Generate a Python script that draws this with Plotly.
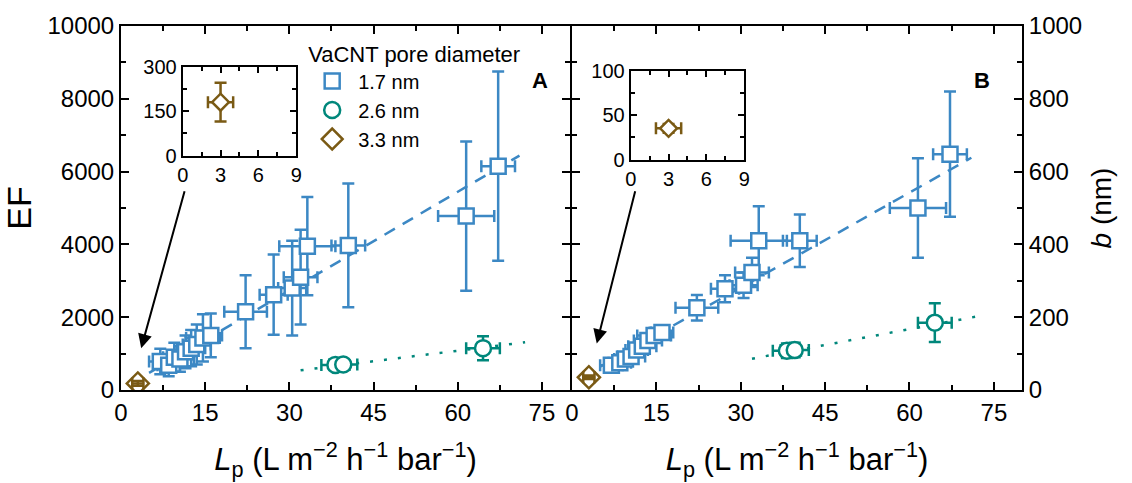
import plotly.graph_objects as go

# ---------------- data ----------------
# VaCNT 1.7 nm
lp_17 = [7.0, 8.5, 9.5, 10.5, 11.5, 12.5, 13.5, 14.6, 16.0, 22.2, 27.2, 30.5, 32.0, 33.2, 40.5, 61.5, 67.2]
lp_17_err = [2.0, 2.0, 2.0, 2.5, 2.0, 2.5, 2.5, 3.0, 2.0, 3.8, 2.5, 2.5, 3.0, 5.0, 3.0, 5.0, 3.0]
ef_17 = [780, 680, 900, 850, 1050, 1150, 1250, 1430, 1500, 2150, 2620, 2800, 3100, 3950, 3970, 4780, 6150]
ef_17_err = [350, 300, 400, 350, 450, 500, 550, 650, 600, 1000, 1100, 1300, 1300, 1350, 1700, 2050, 2600]
b_17 = [68, 75, 85, 92, 110, 120, 136, 150, 158, 226, 278, 288, 323, 410, 410, 500, 648]
b_17_err = [12, 12, 14, 15, 15, 18, 18, 20, 20, 35, 37, 35, 40, 95, 72, 137, 172]

# VaCNT 2.6 nm
lp_26 = [38.2, 39.6, 64.5]
lp_26_err = [2.5, 2.5, 3.0]
ef_26 = [690, 700, 1150]
ef_26_err = [120, 120, 330]
b_26 = [108, 110, 185]
b_26_err = [20, 20, 53]

# VaCNT 3.3 nm
lp_33 = [3.0]
lp_33_err = [1.0]
ef_33 = [180]
ef_33_err = [65]
b_33 = [35]
b_33_err = [5]

# linear fits (end points)
fit_x_17 = [5, 71]
fit_ef_17 = [470, 6440]
fit_b_17 = [64, 638]
fit_x_26 = [32, 72]
fit_ef_26 = [540, 1310]
fit_b_26 = [86, 202]

x_ticks = [0, 15, 30, 45, 60, 75]
ef_ticks = [0, 2000, 4000, 6000, 8000, 10000]
b_ticks = [0, 200, 400, 600, 800, 1000]
inset_x_ticks = [0, 3, 6, 9]
inset_ef_ticks = [0, 150, 300]
inset_b_ticks = [0, 50, 100]

BLUE = "#3c88c4"
TEAL = "#00877b"
BROWN = "#7a5a14"
FONT = "Liberation Sans, Arial, sans-serif"

fig = go.Figure()


def pts(x, xe, y, ye, color, symbol, size, xa, ya, name=None, legend=False, fill="white"):
    fig.add_trace(go.Scatter(
        x=x, y=y, mode="markers", xaxis=xa, yaxis=ya,
        name=name, showlegend=legend,
        marker=dict(symbol=symbol, size=size, color=fill,
                    line=dict(color=color, width=2.5)),
        error_x=dict(type="data", array=xe, color=color, thickness=2.5, width=6),
        error_y=dict(type="data", array=ye, color=color, thickness=2.5, width=6),
    ))


def fit(x, y, color, dash, xa, ya):
    fig.add_trace(go.Scatter(x=x, y=y, mode="lines", xaxis=xa, yaxis=ya,
                             showlegend=False,
                             line=dict(color=color, width=2.5, dash=dash)))


# panel A
fit(fit_x_17, fit_ef_17, BLUE, "12px,9px", "x", "y")
fit(fit_x_26, fit_ef_26, TEAL, "3px,11px", "x", "y")
pts(lp_17, lp_17_err, ef_17, ef_17_err, BLUE, "square", 15, "x", "y", "1.7 nm", True)
pts(lp_26, lp_26_err, ef_26, ef_26_err, TEAL, "circle", 16, "x", "y", "2.6 nm", True)
pts(lp_33, lp_33_err, ef_33, ef_33_err, BROWN, "diamond", 17, "x", "y", "3.3 nm", True,
    fill="rgba(0,0,0,0)")
# panel B
fit(fit_x_17, fit_b_17, BLUE, "12px,9px", "x2", "y2")
fit(fit_x_26, fit_b_26, TEAL, "3px,11px", "x2", "y2")
pts(lp_17, lp_17_err, b_17, b_17_err, BLUE, "square", 15, "x2", "y2")
pts(lp_26, lp_26_err, b_26, b_26_err, TEAL, "circle", 16, "x2", "y2")
pts(lp_33, lp_33_err, b_33, b_33_err, BROWN, "diamond", 17, "x2", "y2", fill="rgba(0,0,0,0)")
# insets
pts(lp_33, lp_33_err, ef_33, ef_33_err, BROWN, "diamond", 13, "x3", "y3")
pts(lp_33, lp_33_err, b_33, b_33_err, BROWN, "diamond", 13, "x4", "y4")

L, R, T, B = 117, 110, 22, 93
W, H = 1132, 483
pw = W - L - R
ph = H - T - B
split = (568 - L) / pw
split_b = (570 - L) / pw


def px_x(p):
    return (p - L) / pw


def px_y(p):
    return (H - B - p) / ph


common = dict(showline=True, linecolor="black", linewidth=2, mirror="ticks",
              ticks="inside", ticklen=8, tickwidth=2, tickcolor="black",
              showgrid=False, zeroline=False, tickformat="d",
              tickfont=dict(family=FONT, size=24, color="black"))
minor_main = dict(ticks="inside", ticklen=5, tickwidth=2, tickcolor="black", showgrid=False)

xtitle = dict(text="<i>L</i><sub>p</sub> (L m<sup>−2</sup> h<sup>−1</sup> bar<sup>−1</sup>)",
              font=dict(family=FONT, size=31, color="black"), standoff=24)

fig.update_layout(
    xaxis=dict(domain=[0, split], range=[0, 80], tickvals=x_ticks, anchor="y",
               minor=dict(dtick=7.5, tick0=0, **minor_main), title=xtitle, **common),
    yaxis=dict(domain=[0, 1], range=[0, 10000], tickvals=ef_ticks, anchor="x",
               minor=dict(dtick=1000, tick0=0, **minor_main),
               title=dict(text="EF", font=dict(family=FONT, size=34, color="black"), standoff=12),
               **common),
    xaxis2=dict(domain=[split_b, 1], range=[0, 80], tickvals=x_ticks, anchor="y2",
                minor=dict(dtick=7.5, tick0=0, **minor_main), title=xtitle, **common),
    yaxis2=dict(domain=[0, 1], range=[0, 1000], tickvals=b_ticks, anchor="x2", side="right",
                minor=dict(dtick=100, tick0=0, **minor_main),
                title=dict(text="<i>b</i> (nm)", font=dict(family=FONT, size=28, color="black"),
                           standoff=10),
                **common),
)

inset_common = dict(showline=True, linecolor="black", linewidth=2, mirror="ticks",
                    ticks="inside", ticklen=6, tickwidth=2, tickcolor="black",
                    showgrid=False, zeroline=False,
                    tickfont=dict(family=FONT, size=20, color="black"))
minor_in = dict(ticks="inside", ticklen=4, tickwidth=2, tickcolor="black", showgrid=False)

fig.update_layout(
    xaxis3=dict(domain=[px_x(179), px_x(293)], range=[0, 9], tickvals=inset_x_ticks, anchor="y3",
                minor=dict(dtick=1.5, tick0=0, **minor_in), **inset_common),
    yaxis3=dict(domain=[px_y(153), px_y(63)], range=[0, 300], tickvals=inset_ef_ticks, anchor="x3",
                minor=dict(dtick=75, tick0=0, **minor_in), **inset_common),
    xaxis4=dict(domain=[px_x(629), px_x(743)], range=[0, 9], tickvals=inset_x_ticks, anchor="y4",
                minor=dict(dtick=1.5, tick0=0, **minor_in), **inset_common),
    yaxis4=dict(domain=[px_y(157), px_y(67)], range=[0, 100], tickvals=inset_b_ticks, anchor="x4",
                minor=dict(dtick=25, tick0=0, **minor_in), **inset_common),
)

annotations = [
    dict(text="<b>A</b>", xref="paper", yref="paper", x=px_x(538), y=px_y(62),
         showarrow=False, font=dict(family=FONT, size=22, color="black")),
    dict(text="<b>B</b>", xref="paper", yref="paper", x=px_x(992), y=px_y(62),
         showarrow=False, font=dict(family=FONT, size=22, color="black")),
    dict(x=3.6, y=1150, ax=11.4, ay=5500, xref="x", yref="y", axref="x", ayref="y",
         text="", showarrow=True, arrowhead=2, arrowsize=1.4, arrowwidth=2, arrowcolor="black"),
    dict(x=4.4, y=128, ax=11.3, ay=550, xref="x2", yref="y2", axref="x2", ayref="y2",
         text="", showarrow=True, arrowhead=2, arrowsize=1.4, arrowwidth=2, arrowcolor="black"),
]

fig.update_layout(
    width=W, height=H,
    margin=dict(l=L, r=R, t=T, b=B),
    paper_bgcolor="white", plot_bgcolor="white",
    font=dict(family=FONT, color="black"),
    annotations=annotations,
    legend=dict(x=px_x(303), y=px_y(29), xanchor="left", yanchor="top",
                bgcolor="rgba(0,0,0,0)", borderwidth=0,
                title=dict(text="VaCNT pore diameter", font=dict(family=FONT, size=22, color="black")),
                font=dict(family=FONT, size=20, color="black"),
                tracegroupgap=0, itemwidth=42),
)

fig.write_html("out.html")
